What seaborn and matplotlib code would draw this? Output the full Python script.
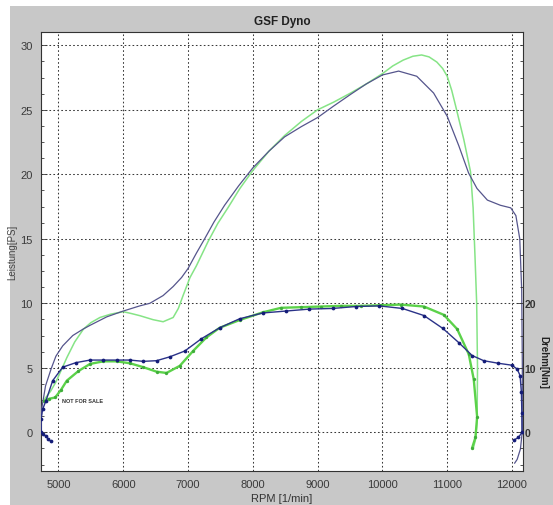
import numpy as np
import pandas as pd
import matplotlib
matplotlib.use("Agg")
import matplotlib.pyplot as plt
from matplotlib.patches import Rectangle
from matplotlib.ticker import MultipleLocator, FixedLocator
import seaborn as sns

# ---------------- data ----------------
title = "GSF Dyno"
x_label = "RPM [1/min]"
y_label_left = "Leistung[PS]"
y_label_right = "Drehm[Nm]"
watermark = "NOT FOR SALE"

x_ticks = [5000, 6000, 7000, 8000, 9000, 10000, 11000, 12000]
y_ticks_left = [0, 5, 10, 15, 20, 25, 30]
y_ticks_right = [0, 10, 20]

# Power, blue run [PS]
rpm_power_blue = [4730, 4740, 4800, 4885, 4960, 5065, 5220, 5380, 5490, 5745, 6000,
                  6255, 6410, 6615, 6770, 6900, 7000, 7130, 7256, 7400, 7564, 7780,
                  8000, 8250, 8490, 8750, 9000, 9250, 9510, 9750, 10000, 10250, 10530,
                  10790, 11000, 11180, 11330, 11460, 11620, 11820, 11980, 12060, 12120,
                  12150, 12160, 12158, 12130, 12080, 12040]
power_blue = [0.3, 1.8, 3.6, 4.9, 5.9, 6.7, 7.5, 8.0, 8.3, 8.95, 9.4,
              9.8, 10.0, 10.6, 11.3, 12.0, 12.7, 13.9, 15.0, 16.3, 17.6, 19.1,
              20.5, 21.8, 22.9, 23.7, 24.4, 25.3, 26.2, 27.0, 27.7, 28.0, 27.6,
              26.3, 24.5, 22.2, 20.1, 18.9, 18.0, 17.6, 17.4, 16.8, 15.0,
              11.0, 5.0, 0.0, -1.3, -2.1, -2.4]

# Power, green run [PS]
rpm_power_green = [4790, 4880, 4960, 5050, 5130, 5250, 5385, 5500, 5640, 5800, 6000,
                   6130, 6256, 6460, 6615, 6770, 6850, 6923, 7030, 7128, 7310, 7460,
                   7615, 7800, 8000, 8250, 8490, 8750, 9000, 9250, 9510, 9750, 10000,
                   10160, 10320, 10470, 10605, 10720, 10840, 10930, 11000, 11070, 11130,
                   11256, 11360, 11400, 11430, 11455, 11468, 11462, 11440, 11400]
power_green = [2.6, 3.2, 3.9, 4.9, 5.8, 7.0, 8.0, 8.5, 8.9, 9.15, 9.35,
               9.2, 9.04, 8.73, 8.57, 8.9, 9.6, 10.6, 12.0, 12.9, 14.8, 16.2,
               17.4, 18.9, 20.3, 21.8, 23.0, 24.1, 25.0, 25.6, 26.3, 27.0, 27.8,
               28.4, 28.85, 29.15, 29.25, 29.1, 28.7, 28.2, 27.6, 26.5, 25.3,
               22.7, 20.2, 17.4, 13.5, 10.0, 5.0, 1.0, -0.5, -1.3]

# Torque, blue run [Nm]
rpm_torque_blue = [4880, 4840, 4800, 4760, 4735, 4730, 4756, 4807, 4910, 5065, 5270,
                   5487, 5692, 5897, 6103, 6308, 6513, 6718, 6949, 7205, 7487, 7795,
                   8154, 8513, 8872, 9231, 9590, 9949, 10308, 10641, 10933, 11179,
                   11385, 11564, 11790, 12000, 12080, 12125, 12145, 12152, 12155,
                   12100, 12030]
torque_blue = [-1.4, -1.0, -0.6, -0.2, 0.0, 2.0, 3.6, 4.9, 8.0, 10.1, 10.8,
               11.2, 11.2, 11.2, 11.2, 11.0, 11.1, 11.7, 12.6, 14.5, 16.2, 17.6,
               18.5, 18.8, 19.1, 19.2, 19.5, 19.6, 19.2, 18.1, 16.1, 13.9,
               11.9, 11.1, 10.7, 10.4, 9.8, 8.8, 6.2, 3.0, 0.0,
               -0.8, -1.2]

# Torque, green run [Nm]
rpm_torque_green = [4781, 4858, 4949, 5040, 5128, 5308, 5487, 5692, 5897, 6103, 6308,
                    6513, 6667, 6872, 7077, 7282, 7487, 7795, 8154, 8436, 8750, 9051,
                    9360, 9667, 9975, 10282, 10641, 10949, 11154, 11333, 11410, 11462,
                    11436, 11385]
torque_green = [4.9, 5.2, 5.4, 6.6, 8.0, 9.5, 10.6, 11.0, 11.0, 10.7, 10.1,
                9.4, 9.2, 10.3, 12.6, 14.7, 16.2, 17.4, 18.6, 19.3, 19.4, 19.5,
                19.6, 19.6, 19.7, 19.8, 19.5, 18.2, 16.0, 12.1, 8.2, 2.4,
                -0.8, -2.4]

# ---------------- style ----------------
sns.set_theme(style="white")
plt.rcParams["font.family"] = ["Liberation Sans", "DejaVu Sans"]

W, H = 553, 506
fig = plt.figure(figsize=(W / 100, H / 100), dpi=100)
fig.patch.set_facecolor("white")
fig.patches.append(Rectangle((10 / W, 0), 1, 1 - 7 / H, transform=fig.transFigure,
                             facecolor="#c8c8c8", edgecolor="none", zorder=-10))

ax = fig.add_axes([41 / W, 34 / H, 482 / W, 439 / H])
ax.set_facecolor("white")

df_pb = pd.DataFrame({"rpm": rpm_power_blue, "val": power_blue})
df_pg = pd.DataFrame({"rpm": rpm_power_green, "val": power_green})
df_tb = pd.DataFrame({"rpm": rpm_torque_blue, "val": torque_blue})
df_tg = pd.DataFrame({"rpm": rpm_torque_green, "val": torque_green})

sns.lineplot(data=df_pg, x="rpm", y="val", sort=False, estimator=None, ax=ax,
             color="#86e486", linewidth=1.1, zorder=3)
sns.lineplot(data=df_pb, x="rpm", y="val", sort=False, estimator=None, ax=ax,
             color="#55558c", linewidth=0.9, zorder=4)

ax.set_xlim(4730, 12170)
ax.set_ylim(-3.0, 31.03)
ax.set_xticks(x_ticks)
ax.set_yticks(y_ticks_left)
ax.yaxis.set_minor_locator(MultipleLocator(1.25))
ax.grid(True, which="major", linestyle=(0, (1.6, 2.2)), color="#3a3a3a", linewidth=0.75)
ax.set_axisbelow(True)
ax.tick_params(axis="both", which="both", direction="in", colors="#3a3a3a",
               labelsize=8, width=0.6)
ax.tick_params(axis="both", which="major", length=4, pad=6)
ax.tick_params(axis="y", which="minor", length=2, left=True)
ax.set_title(title, fontsize=8.5, fontweight="bold", color="#202020", pad=6)
ax.set_xlabel(x_label, fontsize=8, color="#333333", labelpad=3)
ax.set_ylabel(y_label_left, fontsize=7, color="#444444", labelpad=2)
for s in ax.spines.values():
    s.set_color("#333333")
    s.set_linewidth(0.8)

ax.text(5050, 2.45, watermark, fontsize=4, fontweight="bold", color="#333333",
        ha="left", va="center", zorder=6)

ax2 = ax.twinx()
ax2.set_ylim(-6.0, 62.06)
sns.lineplot(data=df_tg, x="rpm", y="val", sort=False, estimator=None, ax=ax2,
             color="#5cd24a", linewidth=1.7, marker="o", markersize=2.4,
             markerfacecolor="#3fae3a", markeredgewidth=0, zorder=3)
sns.lineplot(data=df_tb, x="rpm", y="val", sort=False, estimator=None, ax=ax2,
             color="#2a3288", linewidth=1.0, marker="o", markersize=2.7,
             markerfacecolor="#141c78", markeredgewidth=0, zorder=4)
ax2.set_xlim(4730, 12170)
ax2.set_ylabel("")
ax2.set_yticks(y_ticks_right)
ax2.set_yticklabels([str(v) for v in y_ticks_right], fontweight="bold")
ax2.yaxis.set_minor_locator(FixedLocator(np.arange(-5, 62.1, 2.5)))
ax2.tick_params(axis="y", which="both", direction="in", colors="#333333",
                labelsize=7.5, width=0.6, pad=1)
ax2.tick_params(axis="y", which="major", length=4)
ax2.tick_params(axis="y", which="minor", length=2)
ax2.grid(False)
for s in ax2.spines.values():
    s.set_visible(False)

fig.text(543 / W, 1 - 362 / H, y_label_right, rotation=270, fontsize=7,
         fontweight="bold", color="#222222", ha="center", va="center")

fig.savefig("out.png", dpi=100, facecolor=fig.get_facecolor())
